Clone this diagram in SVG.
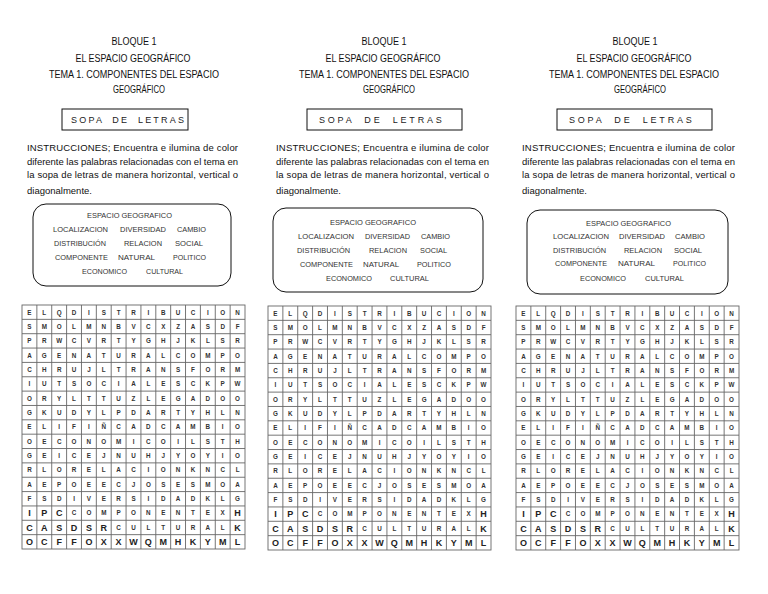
<svg xmlns="http://www.w3.org/2000/svg" xmlns:xlink="http://www.w3.org/1999/xlink" width="768" height="594" viewBox="0 0 768 594">
<style>
.h{font-family:"Liberation Sans",Arial,sans-serif;font-size:10px;fill:#111;text-anchor:middle}
.sopa{font-family:"Liberation Sans",Arial,sans-serif;font-size:9px;fill:#222}
.ins{font-family:"Liberation Sans",Arial,sans-serif;font-size:9.5px;fill:#111}
.kw{font-family:"Liberation Sans",Arial,sans-serif;font-size:8px;fill:#333}
.box{fill:none;stroke:#111;stroke-width:1}
.gl{fill:none;stroke:#666;stroke-width:0.9}
.s{font-family:"Liberation Sans",Arial,sans-serif;font-size:6.3px;font-weight:bold;fill:#333;text-anchor:middle}
.b{font-family:"Liberation Sans",Arial,sans-serif;font-size:9px;font-weight:bold;fill:#222;text-anchor:middle}
</style>
<defs>
<g id="grid">
<rect x="0" y="0" width="223" height="244" class="gl"/>
<path class="gl" d="M14.87 0V244M29.73 0V244M44.6 0V244M59.47 0V244M74.33 0V244M89.2 0V244M104.07 0V244M118.93 0V244M133.8 0V244M148.67 0V244M163.53 0V244M178.4 0V244M193.27 0V244M208.13 0V244M0 14.35H223M0 28.7H223M0 43.06H223M0 57.41H223M0 71.76H223M0 86.12H223M0 100.47H223M0 114.82H223M0 129.18H223M0 143.53H223M0 157.88H223M0 172.24H223M0 186.59H223M0 200.94H223M0 215.29H223M0 229.65H223"/>
<text class="s" y="9.5" x="7.43 22.3 37.17 52.03 66.9 81.77 96.63 111.5 126.37 141.23 156.1 170.97 185.83 200.7 215.57">ELQDISTRIBUCION</text>
<text class="s" y="23.85" x="7.43 22.3 37.17 52.03 66.9 81.77 96.63 111.5 126.37 141.23 156.1 170.97 185.83 200.7 215.57">SMOLMNBVCXZASDF</text>
<text class="s" y="38.2" x="7.43 22.3 37.17 52.03 66.9 81.77 96.63 111.5 126.37 141.23 156.1 170.97 185.83 200.7 215.57">PRWCVRTYGHJKLSR</text>
<text class="s" y="52.55" x="7.43 22.3 37.17 52.03 66.9 81.77 96.63 111.5 126.37 141.23 156.1 170.97 185.83 200.7 215.57">AGENATURALCOMPO</text>
<text class="s" y="66.9" x="7.43 22.3 37.17 52.03 66.9 81.77 96.63 111.5 126.37 141.23 156.1 170.97 185.83 200.7 215.57">CHRUJLTRANSFORM</text>
<text class="s" y="81.25" x="7.43 22.3 37.17 52.03 66.9 81.77 96.63 111.5 126.37 141.23 156.1 170.97 185.83 200.7 215.57">IUTSOCIALESCKPW</text>
<text class="s" y="95.6" x="7.43 22.3 37.17 52.03 66.9 81.77 96.63 111.5 126.37 141.23 156.1 170.97 185.83 200.7 215.57">ORYLTTUZLEGADOO</text>
<text class="s" y="109.95" x="7.43 22.3 37.17 52.03 66.9 81.77 96.63 111.5 126.37 141.23 156.1 170.97 185.83 200.7 215.57">GKUDYLPDARTYHLN</text>
<text class="s" y="124.3" x="7.43 22.3 37.17 52.03 66.9 81.77 96.63 111.5 126.37 141.23 156.1 170.97 185.83 200.7 215.57">ELIFIÑCADCAMBIO</text>
<text class="s" y="138.65" x="7.43 22.3 37.17 52.03 66.9 81.77 96.63 111.5 126.37 141.23 156.1 170.97 185.83 200.7 215.57">OECONOMICOILSTH</text>
<text class="s" y="153" x="7.43 22.3 37.17 52.03 66.9 81.77 96.63 111.5 126.37 141.23 156.1 170.97 185.83 200.7 215.57">GEICEJNUHJYOYIO</text>
<text class="s" y="167.35" x="7.43 22.3 37.17 52.03 66.9 81.77 96.63 111.5 126.37 141.23 156.1 170.97 185.83 200.7 215.57">RLORELACIONKNCL</text>
<text class="s" y="181.7" x="7.43 22.3 37.17 52.03 66.9 81.77 96.63 111.5 126.37 141.23 156.1 170.97 185.83 200.7 215.57">AEPOEECJOSESMOA</text>
<text class="s" y="196.05" x="7.43 22.3 37.17 52.03 66.9 81.77 96.63 111.5 126.37 141.23 156.1 170.97 185.83 200.7 215.57">FSDIVERSIDADKLG</text>
<text class="b" y="211.3" x="7.43 22.3 37.17">IPC</text>
<text class="s" y="210.4" x="52.03 66.9 81.77 96.63 111.5 126.37 141.23 156.1 170.97 185.83 200.7">COMPONENTEX</text>
<text class="b" y="211.3" x="215.57">H</text>
<text class="b" y="225.65" x="7.43 22.3 37.17 52.03 66.9 81.77">CASDSR</text>
<text class="s" y="224.75" x="96.63 111.5 126.37 141.23 156.1 170.97 185.83 200.7">CULTURAL</text>
<text class="b" y="225.65" x="215.57">K</text>
<text class="b" y="240" x="7.43 22.3 37.17 52.03 66.9 81.77 96.63 111.5 126.37 141.23 156.1 170.97 185.83 200.7 215.57">OCFFOXXWQMHKYML</text>
</g>
</defs>

<g id="panel1">
<g id="header1">
<text class="h" x="134" y="45" textLength="45" lengthAdjust="spacingAndGlyphs">BLOQUE 1</text>
<text class="h" x="133" y="62" textLength="115" lengthAdjust="spacingAndGlyphs">EL ESPACIO GEOGRÁFICO</text>
<text class="h" x="134" y="78" textLength="170" lengthAdjust="spacingAndGlyphs">TEMA 1. COMPONENTES DEL ESPACIO</text>
<text class="h" x="139" y="93" textLength="52" lengthAdjust="spacingAndGlyphs">GEOGRÁFICO</text>
</g>
<g id="sopa1">
<rect class="box" x="62" y="109" width="126" height="21"/>
<text class="sopa" x="71" y="123" letter-spacing="2.2" word-spacing="4">SOPA DE LETRAS</text>
</g>
<g id="instr1">
<text class="ins" x="27" y="151" textLength="211" lengthAdjust="spacing">INSTRUCCIONES; Encuentra e ilumina de color</text>
<text class="ins" x="27" y="165" textLength="211" lengthAdjust="spacing">diferente las palabras relacionadas con el tema en</text>
<text class="ins" x="27" y="178" textLength="211" lengthAdjust="spacing">la sopa de letras de manera horizontal, vertical o</text>
<text class="ins" x="27" y="194">diagonalmente.</text>
</g>
<g id="words1">
<rect class="box" x="33" y="204" width="198" height="82" rx="13"/>
<text class="kw" x="87" y="218" textLength="85" lengthAdjust="spacingAndGlyphs">ESPACIO GEOGRAFICO</text>
<text class="kw" x="53" y="232" textLength="55" lengthAdjust="spacingAndGlyphs">LOCALIZACION</text>
<text class="kw" x="120" y="232" textLength="46" lengthAdjust="spacingAndGlyphs">DIVERSIDAD</text>
<text class="kw" x="177" y="232" textLength="29" lengthAdjust="spacingAndGlyphs">CAMBIO</text>
<text class="kw" x="54" y="246" textLength="52" lengthAdjust="spacingAndGlyphs">DISTRIBUCIÓN</text>
<text class="kw" x="124" y="246" textLength="38" lengthAdjust="spacingAndGlyphs">RELACION</text>
<text class="kw" x="175" y="246" textLength="28" lengthAdjust="spacingAndGlyphs">SOCIAL</text>
<text class="kw" x="55" y="260" textLength="53" lengthAdjust="spacingAndGlyphs">COMPONENTE</text>
<text class="kw" x="118" y="260" textLength="37" lengthAdjust="spacingAndGlyphs">NATURAL</text>
<text class="kw" x="173" y="260" textLength="33" lengthAdjust="spacingAndGlyphs">POLITICO</text>
<text class="kw" x="82" y="274" textLength="45" lengthAdjust="spacingAndGlyphs">ECONOMICO</text>
<text class="kw" x="146" y="274" textLength="37" lengthAdjust="spacingAndGlyphs">CULTURAL</text>
</g>
<use id="grid1" xlink:href="#grid" href="#grid" x="22" y="305"/>
</g>

<g id="panel2">
<g id="header2">
<text class="h" x="384" y="45" textLength="45" lengthAdjust="spacingAndGlyphs">BLOQUE 1</text>
<text class="h" x="383" y="62" textLength="115" lengthAdjust="spacingAndGlyphs">EL ESPACIO GEOGRÁFICO</text>
<text class="h" x="384" y="78" textLength="170" lengthAdjust="spacingAndGlyphs">TEMA 1. COMPONENTES DEL ESPACIO</text>
<text class="h" x="389" y="93" textLength="52" lengthAdjust="spacingAndGlyphs">GEOGRÁFICO</text>
</g>
<g id="sopa2">
<rect class="box" x="307" y="109" width="155" height="21"/>
<text class="sopa" x="319" y="123" letter-spacing="2.8" word-spacing="5">SOPA DE LETRAS</text>
</g>
<g id="instr2">
<text class="ins" x="276" y="151" textLength="213" lengthAdjust="spacing">INSTRUCCIONES; Encuentra e ilumina de color</text>
<text class="ins" x="276" y="165" textLength="213" lengthAdjust="spacing">diferente las palabras relacionadas con el tema en</text>
<text class="ins" x="276" y="178" textLength="213" lengthAdjust="spacing">la sopa de letras de manera horizontal, vertical o</text>
<text class="ins" x="276" y="194">diagonalmente.</text>
</g>
<g id="words2">
<rect class="box" x="273" y="208" width="210" height="84" rx="13"/>
<text class="kw" x="330" y="225" textLength="86" lengthAdjust="spacingAndGlyphs">ESPACIO GEOGRAFICO</text>
<text class="kw" x="298" y="239" textLength="56" lengthAdjust="spacingAndGlyphs">LOCALIZACION</text>
<text class="kw" x="365" y="239" textLength="45" lengthAdjust="spacingAndGlyphs">DIVERSIDAD</text>
<text class="kw" x="421" y="239" textLength="29" lengthAdjust="spacingAndGlyphs">CAMBIO</text>
<text class="kw" x="297" y="253" textLength="53" lengthAdjust="spacingAndGlyphs">DISTRIBUCIÓN</text>
<text class="kw" x="369" y="253" textLength="38" lengthAdjust="spacingAndGlyphs">RELACION</text>
<text class="kw" x="420" y="253" textLength="27" lengthAdjust="spacingAndGlyphs">SOCIAL</text>
<text class="kw" x="300" y="267" textLength="53" lengthAdjust="spacingAndGlyphs">COMPONENTE</text>
<text class="kw" x="363" y="267" textLength="36" lengthAdjust="spacingAndGlyphs">NATURAL</text>
<text class="kw" x="417" y="267" textLength="34" lengthAdjust="spacingAndGlyphs">POLITICO</text>
<text class="kw" x="326" y="281" textLength="46" lengthAdjust="spacingAndGlyphs">ECONOMICO</text>
<text class="kw" x="390" y="281" textLength="39" lengthAdjust="spacingAndGlyphs">CULTURAL</text>
</g>
<use id="grid2" xlink:href="#grid" href="#grid" x="268" y="306"/>
</g>

<g id="panel3">
<g id="header3">
<text class="h" x="635" y="45" textLength="45" lengthAdjust="spacingAndGlyphs">BLOQUE 1</text>
<text class="h" x="634" y="62" textLength="115" lengthAdjust="spacingAndGlyphs">EL ESPACIO GEOGRÁFICO</text>
<text class="h" x="634" y="78" textLength="170" lengthAdjust="spacingAndGlyphs">TEMA 1. COMPONENTES DEL ESPACIO</text>
<text class="h" x="640" y="93" textLength="52" lengthAdjust="spacingAndGlyphs">GEOGRÁFICO</text>
</g>
<g id="sopa3">
<rect class="box" x="557" y="109" width="155" height="21"/>
<text class="sopa" x="569" y="123" letter-spacing="2.8" word-spacing="5">SOPA DE LETRAS</text>
</g>
<g id="instr3">
<text class="ins" x="522" y="151" textLength="213" lengthAdjust="spacing">INSTRUCCIONES; Encuentra e ilumina de color</text>
<text class="ins" x="522" y="165" textLength="213" lengthAdjust="spacing">diferente las palabras relacionadas con el tema en</text>
<text class="ins" x="522" y="178" textLength="213" lengthAdjust="spacing">la sopa de letras de manera horizontal, vertical o</text>
<text class="ins" x="522" y="194">diagonalmente.</text>
</g>
<g id="words3">
<rect class="box" x="527" y="210" width="201" height="84" rx="13"/>
<text class="kw" x="586" y="226" textLength="85" lengthAdjust="spacingAndGlyphs">ESPACIO GEOGRAFICO</text>
<text class="kw" x="553" y="239" textLength="56" lengthAdjust="spacingAndGlyphs">LOCALIZACION</text>
<text class="kw" x="619" y="239" textLength="46" lengthAdjust="spacingAndGlyphs">DIVERSIDAD</text>
<text class="kw" x="675" y="239" textLength="30" lengthAdjust="spacingAndGlyphs">CAMBIO</text>
<text class="kw" x="553" y="253" textLength="53" lengthAdjust="spacingAndGlyphs">DISTRIBUCIÓN</text>
<text class="kw" x="624" y="253" textLength="38" lengthAdjust="spacingAndGlyphs">RELACION</text>
<text class="kw" x="674" y="253" textLength="28" lengthAdjust="spacingAndGlyphs">SOCIAL</text>
<text class="kw" x="555" y="266" textLength="52" lengthAdjust="spacingAndGlyphs">COMPONENTE</text>
<text class="kw" x="618" y="266" textLength="37" lengthAdjust="spacingAndGlyphs">NATURAL</text>
<text class="kw" x="673" y="266" textLength="33" lengthAdjust="spacingAndGlyphs">POLITICO</text>
<text class="kw" x="580" y="281" textLength="46" lengthAdjust="spacingAndGlyphs">ECONOMICO</text>
<text class="kw" x="645" y="281" textLength="39" lengthAdjust="spacingAndGlyphs">CULTURAL</text>
</g>
<use id="grid3" xlink:href="#grid" href="#grid" x="516" y="306"/>
</g>
<g id="connectors"/>
</svg>
